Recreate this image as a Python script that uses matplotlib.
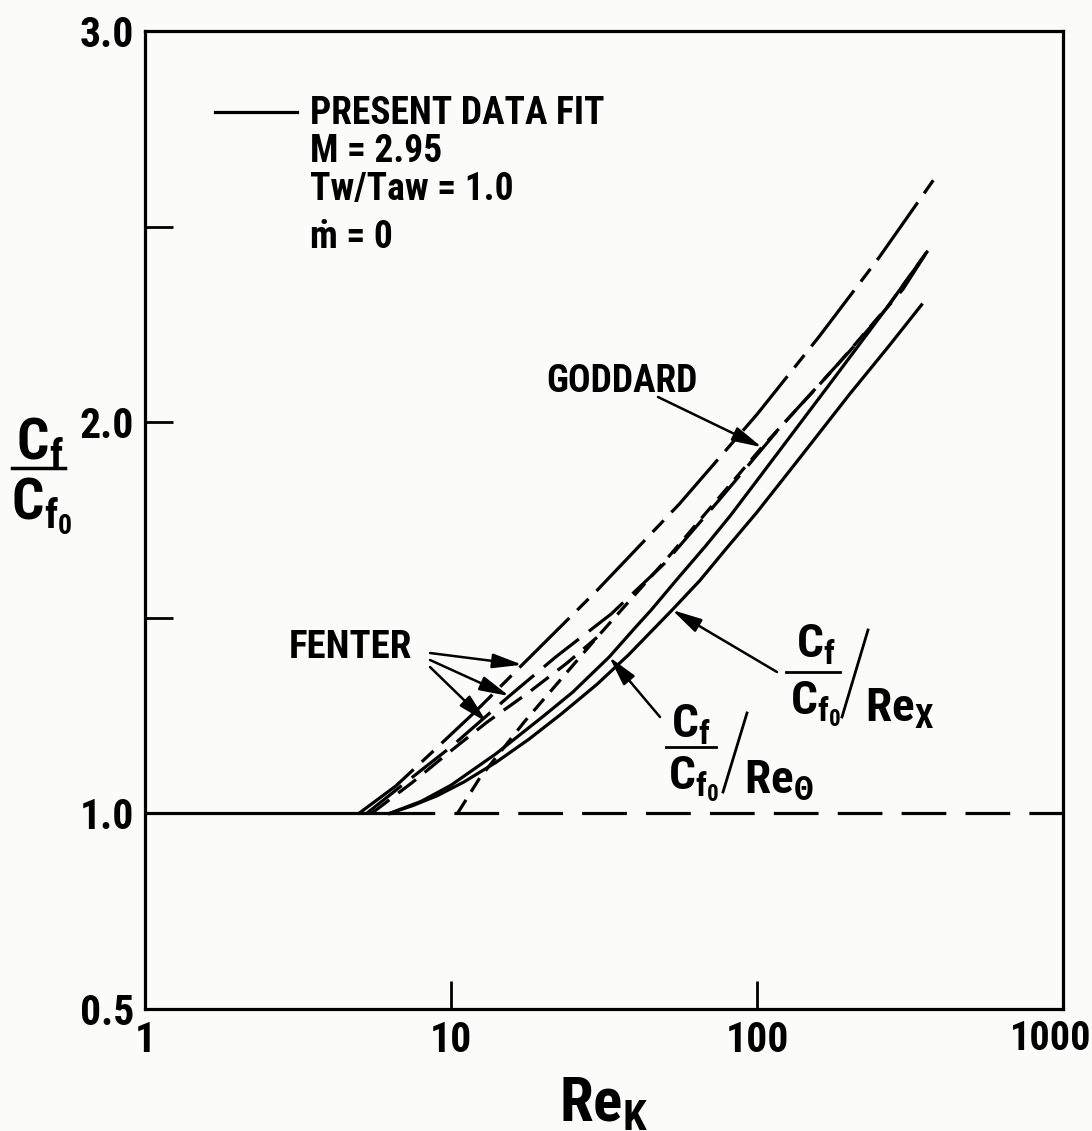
import os
import matplotlib
matplotlib.use("Agg")
import matplotlib.pyplot as plt
from matplotlib import font_manager as fm
from matplotlib.lines import Line2D
from matplotlib.transforms import ScaledTranslation

# ---- data (Re_K, Cf/Cf0) ----
# Fenter, upper (long dash / short dash)
fenter1_x = [5.0, 6.6, 8.5, 12, 17.1, 30, 55.6, 100, 160, 250, 378]
fenter1_y = [1.0, 1.07, 1.15, 1.26, 1.38, 1.57, 1.79, 2.02, 2.22, 2.42, 2.62]
# Fenter, middle (long dash)
fenter2_x = [5.3, 7, 10, 15.5, 22, 33.4, 50, 75, 120, 200, 300, 359]
fenter2_y = [1.0, 1.075, 1.17, 1.30, 1.40, 1.51, 1.64, 1.80, 1.99, 2.18, 2.34, 2.435]
# Fenter, lower (dash)
fenter3_x = [5.5, 7.5, 10, 13.1, 18, 24, 30]
fenter3_y = [1.0, 1.08, 1.16, 1.233, 1.31, 1.385, 1.45]
# Goddard (short dash)
goddard_x = [10.5, 12.4, 17.4, 30, 50, 103.8, 180, 270, 359]
goddard_y = [1.0, 1.09, 1.235, 1.45, 1.645, 1.936, 2.14, 2.30, 2.435]
# present data fit, Cf/Cf0 vs Re_theta (solid)
retheta_x = [6.3, 8, 10, 14, 20, 25, 32.9, 40, 45, 55, 68, 82, 100, 170, 270, 359]
retheta_y = [1.0, 1.031, 1.072, 1.152, 1.248, 1.31, 1.40, 1.475, 1.519, 1.60, 1.684,
             1.762, 1.851, 2.09, 2.30, 2.435]
# present data fit, Cf/Cf0 vs Re_x (solid)
rex_x = [6.3, 7.5, 9, 11, 14, 18, 23, 30, 38, 52.8, 65, 79, 100, 140, 200, 270, 345]
rex_y = [1.0, 1.02, 1.045, 1.08, 1.13, 1.19, 1.255, 1.33, 1.405, 1.52, 1.595,
         1.675, 1.77, 1.915, 2.07, 2.195, 2.30]
# Cf/Cf0 = 1 reference
base_solid_x = [1, 6.3]
base_dash_x = [6.3, 1000]
base_y = [1.0, 1.0]

xticks = [1, 10, 100, 1000]
xticklabels = ['1', '10', '100', '1000']
yticks = [0.5, 1.0, 1.5, 2.0, 2.5, 3.0]
yticklabels = ['0.5', '1.0', '', '2.0', '', '3.0']


# ---- font: look for a bold condensed face, else a narrow-ish bold one ----
def pick_font():
    cond_words = ('Narrow', 'Condensed', 'Cond')
    best, best_score = None, -1
    for f in fm.fontManager.ttflist:
        if f.style != 'normal':
            continue
        w = f.weight if isinstance(f.weight, int) else \
            {'bold': 700, 'heavy': 800, 'black': 900}.get(f.weight, 400)
        if w < 700:
            continue
        base = os.path.basename(f.fname)
        cond = (f.stretch not in ('normal', 500, 'medium')) and 'expanded' not in str(f.stretch)
        cond = cond or any(c in f.name or c in base for c in cond_words)
        score = 0
        if cond:
            score += 100
        if 'Roboto' in f.name or 'Liberation' in f.name:
            score += 10
        score += min(w, 900) // 100
        if score > best_score:
            best, best_score = f.fname, score
    return best


FONT = pick_font()


def fp(size):
    return fm.FontProperties(fname=FONT, size=size)


pattern = fm.FontProperties(fname=FONT).get_fontconfig_pattern()
plt.rcParams['mathtext.fontset'] = 'custom'
for key in ('rm', 'it', 'bf', 'sf'):
    plt.rcParams['mathtext.' + key] = pattern

W, H = 1092, 1131


def fpx(x, y):
    # pixel position (from top-left) -> figure fraction
    return x / W, 1 - y / H


fig = plt.figure(figsize=(W / 100, H / 100), dpi=100, facecolor='#fbfbfa')
ax = fig.add_axes([145 / W, 1 - 1009 / H, 918 / W, 978 / H])
ax.set_facecolor('#fbfbfa')

LW = 2.3
ax.plot(base_solid_x, base_y, color='k', lw=LW)
ax.plot(base_dash_x, base_y, color='k', lw=LW, dashes=(14, 6))
ax.plot(fenter1_x, fenter1_y, color='k', lw=LW, dashes=(22, 3.5, 5, 3.5))
ax.plot(fenter2_x, fenter2_y, color='k', lw=LW, dashes=(14, 4))
ax.plot(fenter3_x, fenter3_y, color='k', lw=LW, dashes=(7, 3.5))
ax.plot(goddard_x, goddard_y, color='k', lw=LW, dashes=(5, 3))
ax.plot(retheta_x, retheta_y, color='k', lw=LW)
ax.plot(rex_x, rex_y, color='k', lw=LW)

ax.set_xscale('log')
ax.set_xlim(1, 1000)
ax.set_ylim(0.5, 3.0)
ax.minorticks_off()
ax.set_xticks(xticks)
ax.set_xticklabels(xticklabels)
ax.set_yticks(yticks)
ax.set_yticklabels(yticklabels)
ax.tick_params(direction='in', length=20, width=2)
ax.tick_params(axis='y', pad=8)
ax.tick_params(axis='x', pad=8)
for lbl in ax.get_xticklabels() + ax.get_yticklabels():
    lbl.set_fontproperties(fp(30))
# pull "1000" inside the figure edge
last = ax.get_xticklabels()[-1]
last.set_fontproperties(fp(29))
last.set_transform(last.get_transform() + ScaledTranslation(-12 / 100, 0, fig.dpi_scale_trans))
for s in ax.spines.values():
    s.set_linewidth(2.3)
ax.set_xlabel(r'$\mathrm{Re_K}$', fontproperties=fp(44), labelpad=10)

# y label as a stacked fraction
fig.text(*fpx(40, 444), r'$\mathrm{C_f}$', fontproperties=fp(41), ha='center', va='center')
fig.add_artist(Line2D([12 / W, 65 / W], [1 - 468 / H] * 2, color='k', lw=2.5))
fig.text(*fpx(42, 506), r'$\mathrm{C_{f_0}}$', fontproperties=fp(41), ha='center', va='center')

# legend block
ax.plot([0.076, 0.166], [0.917, 0.917], transform=ax.transAxes, color='k', lw=LW)
for txt, y in [('PRESENT DATA FIT', 113), ('M = 2.95', 151),
               ('Tw/Taw = 1.0', 190), ('\u1e41 = 0', 237)]:
    fig.text(*fpx(310, y), txt, fontproperties=fp(27), ha='left', va='center')

arrow = dict(arrowstyle='-|>,head_length=0.9,head_width=0.22', lw=1.8,
             color='k', shrinkA=0, shrinkB=0, mutation_scale=20)

# Goddard
fig.text(*fpx(622, 381), 'GODDARD', fontproperties=fp(27), ha='center', va='center')
ax.annotate('', xy=(103.8, 1.936), xycoords='data',
            xytext=fpx(658, 397), textcoords='figure fraction', arrowprops=arrow)

# Fenter
fig.text(*fpx(350, 648), 'FENTER', fontproperties=fp(28), ha='center', va='center')
for (tx, ty), start in zip([(17.1, 1.38), (15.5, 1.30), (13.1, 1.233)],
                           [(430, 653), (430, 660), (430, 667)]):
    ax.annotate('', xy=(tx, ty), xycoords='data',
                xytext=fpx(*start), textcoords='figure fraction', arrowprops=arrow)

# Re_theta label
fig.text(*fpx(691, 725), r'$\mathrm{C_f}$', fontproperties=fp(34), ha='center', va='center')
fig.add_artist(Line2D([666 / W, 716 / W], [1 - 747 / H] * 2, color='k', lw=2))
fig.text(*fpx(694, 779), r'$\mathrm{C_{f_0}}$', fontproperties=fp(34), ha='center', va='center')
fig.add_artist(Line2D([747 / W, 723 / W], [1 - 713 / H, 1 - 792 / H], color='k', lw=2))
fig.text(*fpx(744, 781), r'$\mathrm{Re_\Theta}$', fontproperties=fp(34), ha='left', va='center')
ax.annotate('', xy=(32.9, 1.40), xycoords='data',
            xytext=fpx(660, 717), textcoords='figure fraction', arrowprops=arrow)

# Re_x label
fig.text(*fpx(816, 645), r'$\mathrm{C_f}$', fontproperties=fp(34), ha='center', va='center')
fig.add_artist(Line2D([786 / W, 840 / W], [1 - 672 / H] * 2, color='k', lw=2))
fig.text(*fpx(816, 704), r'$\mathrm{C_{f_0}}$', fontproperties=fp(34), ha='center', va='center')
fig.add_artist(Line2D([868 / W, 842 / W], [1 - 630 / H, 1 - 717 / H], color='k', lw=2))
fig.text(*fpx(865, 709), r'$\mathrm{Re_X}$', fontproperties=fp(34), ha='left', va='center')
ax.annotate('', xy=(52.8, 1.52), xycoords='data',
            xytext=fpx(777, 672), textcoords='figure fraction', arrowprops=arrow)

fig.savefig('out.png', dpi=100, facecolor=fig.get_facecolor())
